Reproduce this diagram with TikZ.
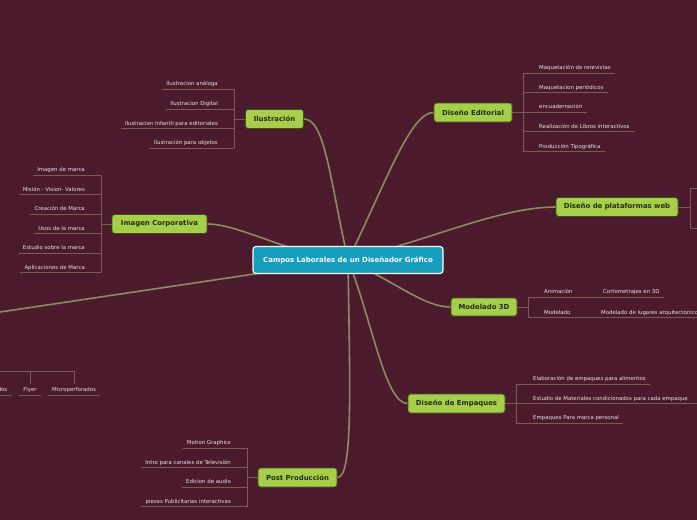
\documentclass[tikz,border=0pt]{standalone}
\usepackage{fontspec}
\setmainfont{DejaVu Sans}
\definecolor{bgc}{RGB}{75,27,45}
\definecolor{linkc}{RGB}{142,137,96}
\definecolor{subc}{RGB}{122,92,80}
\definecolor{leaftext}{RGB}{236,222,226}
\definecolor{mgreen}{RGB}{166,206,74}
\definecolor{mborder}{RGB}{58,82,20}
\definecolor{mtext}{RGB}{35,45,15}
\definecolor{cfill}{RGB}{23,157,190}
\pgfdeclarelayer{back}
\pgfdeclarelayer{links}
\pgfsetlayers{back,links,main}
\tikzset{
  mainnode/.style={rectangle, rounded corners=2.5pt, fill=mgreen, draw=mborder, line width=0.9pt,
    font=\fontsize{6.9}{7.5}\selectfont\bfseries, text=mtext, inner sep=0pt, minimum height=19pt},
  centernode/.style={rectangle, rounded corners=3pt, fill=cfill, draw=white, line width=1.1pt,
    font=\fontsize{7}{8}\selectfont\bfseries, text=white, inner sep=0pt, minimum height=27pt, minimum width=190pt},
  leaf/.style={font=\fontsize{5.4}{6}\selectfont, text=leaftext, inner xsep=4pt, inner ysep=3.2pt,
    text height=4pt, text depth=0pt},
  link/.style={draw=linkc, line width=1.6pt},
  sub/.style={draw=subc, line width=0.8pt}
}
\begin{document}
\begin{tikzpicture}[x=1pt,y=-1pt]
\useasboundingbox (0,0) rectangle (697,520);
\clip (0,0) rectangle (697,520);
\begin{pgfonlayer}{back}
\fill[bgc] (0,0) rectangle (697,520);
\end{pgfonlayer}

% central and main nodes
\node[centernode] (c) at (348,260) {Campos Laborales de un Diseñador Gráfico};
\node[mainnode, minimum width=58pt] (ilus) at (274.5,119) {Ilustración};
\node[mainnode, minimum width=95pt] (imag) at (159.5,224) {Imagen Corporativa};
\node[mainnode, minimum width=78pt] (edit) at (473,112.5) {Diseño Editorial};
\node[mainnode, minimum width=122pt] (web) at (617,207) {Diseño de plataformas web};
\node[mainnode, minimum width=66pt, minimum height=18pt] (mod) at (484,307) {Modelado 3D};
\node[mainnode, minimum width=97pt] (emp) at (456.5,403.5) {Diseño de Empaques};
\node[mainnode, minimum width=79pt] (post) at (297.5,477.5) {Post Producción};
\coordinate (hidden) at (-30,316.5);

\begin{pgfonlayer}{links}
\draw[link] (c.center) .. controls (330,180) and (325,119) .. (ilus.east);
\draw[link] (c.center) .. controls (385,185) and (410,112.5) .. (edit.west);
\draw[link] (c.center) .. controls (430,240) and (500,207) .. (web.west);
\draw[link] (c.center) .. controls (400,285) and (425,307) .. (mod.west);
\draw[link] (c.center) .. controls (372,320) and (385,403.5) .. (emp.west);
\draw[link] (c.center) .. controls (350,390) and (353,477.5) .. (post.east);
\draw[link] (c.center) .. controls (290,255) and (240,224) .. (imag.east);
\draw[link] (c.center) -- (hidden);
\end{pgfonlayer}

% Ilustracion
\coordinate (ilb) at (234,119);
\node[leaf, anchor=south east] (il1) at (222,89) {Ilustracion análoga};
\node[leaf, anchor=south east] (il2) at (222,109) {Ilustracion Digital};
\node[leaf, anchor=south east] (il3) at (222,128.5) {Ilustracion Infantil para editoriales};
\node[leaf, anchor=south east] (il4) at (222,148) {Ilustración para objetos};
\draw[sub] (ilus.west) -- (ilus.west -| ilb);
\draw[sub] (il1.south west -| ilb) -- (il4.south west -| ilb);
\foreach \n in {il1,il2,il3,il4} \draw[sub] (\n.south west) -- (\n.south west -| ilb);

% Imagen Corporativa
\coordinate (imb) at (101,224);
\node[leaf, anchor=south east] (im1) at (89,175.3) {Imagen de marca};
\node[leaf, anchor=south east] (im2) at (89,194.7) {Misión - Vision- Valores};
\node[leaf, anchor=south east] (im3) at (89,214.3) {Creación de Marca};
\node[leaf, anchor=south east] (im4) at (89,233.7) {Usos de la marca};
\node[leaf, anchor=south east] (im5) at (89,253.3) {Estudio sobre la marca};
\node[leaf, anchor=south east] (im6) at (89,272.7) {Aplicaciones de Marca};
\draw[sub] (imag.west) -- (imag.west -| imb);
\draw[sub] (im1.south west -| imb) -- (im6.south west -| imb);
\foreach \n in {im1,im2,im3,im4,im5,im6} \draw[sub] (\n.south west) -- (\n.south west -| imb);

% Diseno Editorial
\coordinate (edb) at (523,112.5);
\node[leaf, anchor=south west] (ed1) at (535,73.3) {Maquetación de rerevistas};
\node[leaf, anchor=south west] (ed2) at (535,92.7) {Maquetacion periódicos};
\node[leaf, anchor=south west] (ed3) at (535,112.3) {encuadernación};
\node[leaf, anchor=south west] (ed4) at (535,131.7) {Realización de Libros interactivos};
\node[leaf, anchor=south west] (ed5) at (535,151.7) {Producción Tipográfica};
\draw[sub] (edit.east) -- (edit.east -| edb);
\draw[sub] (ed1.south east -| edb) -- (ed5.south east -| edb);
\foreach \n in {ed1,ed2,ed3,ed4,ed5} \draw[sub] (\n.south east) -- (\n.south east -| edb);

% Plataformas web
\coordinate (wbt) at (690,188.3);
\coordinate (wbb) at (690,228);
\coordinate (wbe) at (710,207);
\draw[sub] (web.east) -- (web.east -| wbt);
\draw[sub] (wbt) -- (wbb);
\draw[sub] (wbt) -- (wbt -| wbe);
\draw[sub] (wbb) -- (wbb -| wbe);

% Modelado 3D
\coordinate (mdb) at (528,307);
\node[leaf, anchor=south west] (md1) at (540,297) {Animación};
\node[leaf, anchor=south west] (md1a) at (599,297) {Cortometrajes en 3D};
\node[leaf, anchor=south west] (md2) at (540,317.5) {Modelado};
\node[leaf, anchor=south west] (md2a) at (597,317.5) {Modelado de lugares arquitectonicos};
\draw[sub] (mod.east) -- (mod.east -| mdb);
\draw[sub] (md1.south west -| mdb) -- (md2.south west -| mdb);
\draw[sub] (md1a.south east) -- (md1a.south east -| mdb);
\draw[sub] (md2a.south east) -- (md2a.south east -| mdb);

% Diseno de Empaques
\coordinate (emb) at (516,403.5);
\node[leaf, anchor=south west] (em1) at (529,384.3) {Elaboración de empaques para alimentos};
\node[leaf, anchor=south west] (em2) at (529,403.7) {Estudio de Materiales condicionados para cada empaque};
\node[leaf, anchor=south west] (em3) at (529,423.3) {Empaques Para marca personal};
\draw[sub] (emp.east) -- (emp.east -| emb);
\draw[sub] (em1.south east -| emb) -- (em3.south east -| emb);
\draw[sub] (em1.south east) -- (em1.south east -| emb);
\draw[sub] (em2.south east) ++(20,0) -- (em2.south east -| emb);
\draw[sub] (em3.south east) -- (em3.south east -| emb);

% Post Produccion
\coordinate (ppb) at (247,477.5);
\node[leaf, anchor=south east] (pp1) at (235,448.3) {Motion Graphics};
\node[leaf, anchor=south east] (pp2) at (235,467.7) {Intro para canales de Televisión};
\node[leaf, anchor=south east] (pp3) at (235,487.3) {Edicion de audio};
\node[leaf, anchor=south east] (pp4) at (235,506.7) {piezas Publicitarias interactivas};
\draw[sub] (post.west) -- (post.west -| ppb);
\draw[sub] (pp1.south west -| ppb) -- (pp4.south west -| ppb);
\foreach \n in {pp1,pp2,pp3,pp4} \draw[sub] (\n.south west) -- (\n.south west -| ppb);

% bottom-left partial branch
\coordinate (blh) at (-20,371);
\node[leaf, anchor=south east] (bl1) at (11.5,395) {dos};
\node[leaf, anchor=south] (bl2) at (30,395) {Flyer};
\node[leaf, anchor=south] (bl3) at (74,395) {Microperforados};
\draw[sub] (blh) -- (bl3.north |- blh) -- (bl3.north);
\draw[sub] (bl2.north |- blh) -- (bl2.north);
\foreach \n in {bl1,bl2,bl3} \draw[sub] (\n.south west) -- (\n.south east);
\end{tikzpicture}
\end{document}
